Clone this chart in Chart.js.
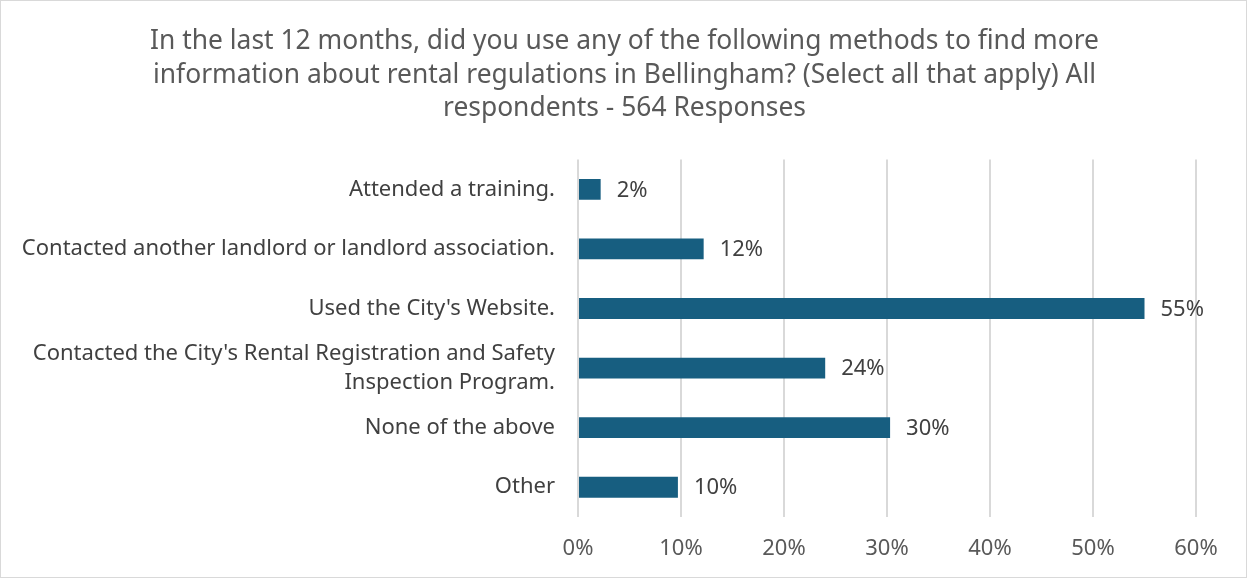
<!DOCTYPE html>
<html>
<head>
<meta charset="utf-8">
<script src="https://cdn.jsdelivr.net/npm/chart.js@4"></script>
<style>
  html, body { margin: 0; padding: 0; background: #fff; }
  #wrap { position: relative; width: 1245px; height: 576px; border: 1px solid #d9d9d9; }
</style>
</head>
<body>
<div id="wrap"><canvas id="chart"></canvas></div>
<script>
// DATA
const categories = [
  "Attended a training.",
  "Contacted another landlord or landlord association.",
  "Used the City's Website.",
  ["Contacted the City's Rental Registration and Safety", "Inspection Program."],
  "None of the above",
  "Other"
];
const shares = [2.2, 12.2, 55.0, 24.0, 30.3, 9.7];
const tickValues = [0, 10, 20, 30, 40, 50, 60];
const titleLines = [
  "In the last 12 months, did you use any of the following methods to find more",
  "information about rental regulations in Bellingham? (Select all that apply) All",
  "respondents - 564 Responses"
];

const FONT = "'Noto Sans', sans-serif";

// value labels to the right of each bar
const barLabels = {
  id: "barLabels",
  afterLayout(chart) {
    // long category labels reach past the left padding; don't clip them
    chart.scales.y.left = 0;
  },
  afterDatasetsDraw(chart) {
    const ctx = chart.ctx;
    const meta = chart.getDatasetMeta(0);
    ctx.save();
    ctx.font = "22px " + FONT;
    ctx.fillStyle = "#404040";
    ctx.textBaseline = "middle";
    ctx.textAlign = "left";
    meta.data.forEach((bar, i) => {
      ctx.fillText(Math.round(shares[i]) + "%", bar.x + 16, bar.y + 1);
    });
    ctx.restore();
  }
};

new Chart(document.getElementById("chart").getContext("2d"), {
  type: "bar",
  data: {
    labels: categories,
    datasets: [{
      data: shares,
      backgroundColor: "#175e80",
      categoryPercentage: 0.35,
      barPercentage: 1
    }]
  },
  plugins: [barLabels],
  options: {
    indexAxis: "y",
    responsive: true,
    maintainAspectRatio: false,
    animation: false,
    layout: { padding: { left: 52, right: 50, top: 24, bottom: 15 } },
    plugins: {
      legend: { display: false },
      tooltip: { enabled: false },
      title: {
        display: true,
        text: titleLines,
        color: "#595959",
        font: { family: FONT, size: 26.4, weight: "normal", lineHeight: 1.27 },
        padding: { top: 0, bottom: 34 }
      }
    },
    scales: {
      x: {
        min: 0, max: 60,
        afterBuildTicks(scale) { scale.ticks = tickValues.map(v => ({ value: v })); },
        afterFit(scale) { scale.height = 45; },
        grid: { color: "#d9d9d9", lineWidth: 2, drawTicks: false },
        border: { display: false },
        ticks: {
          color: "#595959",
          font: { family: FONT, size: 22 },
          padding: 19,
          maxRotation: 0,
          callback: v => v + "%"
        }
      },
      y: {
        grid: { display: false },
        border: { display: false },
        afterFit(scale) { scale.width = 525; },
        ticks: {
          color: "#404040",
          font: { family: FONT, size: 22, lineHeight: 1.32 },
          padding: 15,
          autoSkip: false
        }
      }
    }
  }
});
</script>
</body>
</html>
